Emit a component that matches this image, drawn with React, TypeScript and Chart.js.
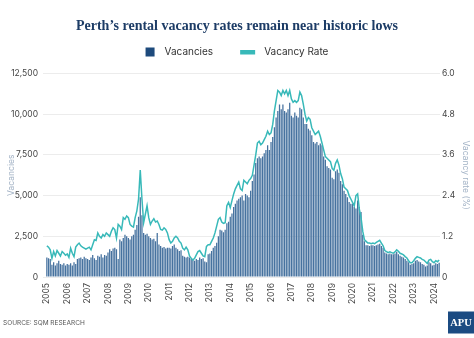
import React, { useEffect, useRef } from 'react';
import { Chart, registerables } from 'chart.js';

Chart.register(...registerables);

// ---- data (monthly, Jan 2005 – Apr 2024) ----
const START_YEAR = 2005;

const vacancies: number[] = [
  // 2005
  1200, 1150, 1100, 750, 900, 700, 850, 1000, 800, 750, 850, 700,
  // 2006
  800, 750, 850, 700, 900, 800, 1100, 1150, 1200, 1100, 1250, 1150,
  // 2007
  1100, 1050, 1200, 1350, 1150, 1050, 1300, 1250, 1400, 1200, 1350, 1300,
  // 2008
  1500, 1700, 1600, 1750, 1800, 1700, 1100, 2300, 2200, 2400, 2600, 2500,
  // 2009
  2400, 2300, 2500, 2600, 2900, 3200, 3700, 4900, 3800, 2700, 2600, 2650,
  // 2010
  2500, 2400, 2300, 2350, 2200, 2700, 2000, 1900, 1800, 1850, 1750, 1800,
  // 2011
  1800, 1750, 1900, 2000, 1800, 1700, 1600, 1650, 1300, 1250, 1200, 1250,
  // 2012
  1200, 1100, 1050, 1000, 1100, 1050, 1200, 1100, 1150, 950, 900, 1400,
  // 2013
  1450, 1600, 1800, 1900, 2100, 2500, 2900, 2850, 2750, 2900, 3300, 3400,
  // 2014
  3700, 3900, 4300, 4500, 4700, 4800, 4900, 5000, 4700, 5100, 5000, 4900,
  // 2015
  5300, 5900, 6300, 7000, 7300, 7400, 7300, 7400, 7600, 7800, 8100, 7800,
  // 2016
  8300, 8600, 9200, 9800, 10200, 10600, 10300, 10600, 10200, 10100, 10300, 10700,
  // 2017
  9900, 9800, 10100, 9900, 9800, 10400, 10300, 9800, 9400, 9400, 9100, 9000,
  // 2018
  8700, 8300, 8200, 8300, 8100, 8200, 8100, 7400, 7200, 6800, 6700, 6600,
  // 2019
  6100, 6000, 6500, 6600, 6400, 5900, 5700, 5300, 5100, 4900, 4600, 4500,
  // 2020
  4500, 4300, 4200, 4700, 4300, 4000, 2600, 2200, 1950, 1950, 1900, 1950,
  // 2021
  1950, 1900, 1950, 2000, 2050, 1900, 1800, 1500, 1450, 1400, 1450, 1400,
  // 2022
  1400, 1450, 1550, 1400, 1300, 1250, 1200, 1100, 1000, 900, 750, 800,
  // 2023
  850, 1000, 1050, 950, 900, 800, 750, 650, 700, 900, 850, 700,
  // 2024
  750, 850, 800, 880,
];

const vacancyRate: number[] = [
  // 2005
  0.92, 0.88, 0.8, 0.55, 0.75, 0.62, 0.78, 0.7, 0.62, 0.75, 0.7, 0.64,
  // 2006
  0.68, 0.58, 0.85, 0.7, 0.6, 0.88, 0.95, 1.0, 0.92, 0.88, 0.85, 0.82,
  // 2007
  0.85, 0.88, 0.8, 0.95, 1.1, 1.08, 1.3, 1.2, 1.15, 1.25, 1.2, 1.3,
  // 2008
  1.25, 1.2, 1.35, 1.45, 1.4, 1.15, 1.55, 1.5, 1.4, 1.75, 1.7, 1.8,
  // 2009
  1.75, 1.55, 1.5, 1.47, 1.75, 1.95, 2.3, 3.15, 2.3, 1.6, 1.85, 2.1,
  // 2010
  1.75, 1.55, 1.65, 1.72, 1.62, 1.65, 1.55, 1.4, 1.38, 1.45, 1.4, 1.3,
  // 2011
  1.1, 1.0, 1.05, 1.15, 1.2, 1.15, 1.05, 1.0, 0.85, 0.8, 0.88, 0.8,
  // 2012
  0.62, 0.55, 0.5, 0.55, 0.65, 0.75, 0.78, 0.7, 0.62, 0.6, 0.9, 0.95,
  // 2013
  0.95, 1.05, 1.15, 1.3, 1.5, 1.7, 1.75, 1.62, 1.58, 1.6, 2.1, 2.2,
  // 2014
  2.05, 2.25, 2.45, 2.6, 2.7, 2.8, 2.6, 2.55, 2.85, 2.8, 2.75, 2.85,
  // 2015
  2.9, 3.0, 3.3, 3.6, 3.95, 4.0, 3.9, 3.95, 4.05, 4.15, 4.3, 4.2,
  // 2016
  4.25, 4.5, 4.9, 5.2, 5.5, 5.45, 5.35, 5.5, 5.4, 5.5, 5.35, 5.5,
  // 2017
  5.25, 5.15, 5.2, 5.15, 5.2, 5.45, 5.35, 5.1, 4.8, 4.6, 4.7, 4.65,
  // 2018
  4.4, 4.3, 4.2, 4.25, 4.3, 4.15, 3.95, 3.75, 3.55, 3.5, 3.45, 3.4,
  // 2019
  3.2, 3.15, 3.35, 3.45, 3.3, 3.05, 2.9, 2.65, 2.6, 2.55, 2.4, 2.3,
  // 2020
  2.2, 2.1, 2.4, 2.45, 2.0, 1.75, 1.35, 1.1, 1.05, 1.0, 1.0, 0.98,
  // 2021
  1.0, 0.98, 1.02, 1.05, 1.08, 1.0, 0.92, 0.78, 0.75, 0.72, 0.74, 0.72,
  // 2022
  0.7, 0.74, 0.8, 0.76, 0.7, 0.68, 0.65, 0.6, 0.56, 0.48, 0.42, 0.42,
  // 2023
  0.48, 0.55, 0.6, 0.58, 0.56, 0.52, 0.5, 0.45, 0.4, 0.5, 0.52, 0.45,
  // 2024
  0.42, 0.48, 0.45, 0.5,
];

const monthLabels: string[] = vacancies.map(
  (_, i) => `${START_YEAR + Math.floor(i / 12)}-${String((i % 12) + 1).padStart(2, '0')}`
);

const seriesNames = ['Vacancies', 'Vacancy Rate'];
const axisTitles = ['Vacancies', 'Vacancy rate (%)'];
const TITLE = 'Perth’s rental vacancy rates remain near historic lows';
const SOURCE = 'SOURCE: SQM RESEARCH';
const LOGO = 'APU';

const NAVY = '#1d4a7c';
const BAR = '#46729f';
const TEAL = '#38b9b9';
const SANS = 'Inter, "Noto Sans", sans-serif';

const decorPlugin = {
  id: 'decor',
  afterDraw(chart: any) {
    const ctx = chart.ctx as CanvasRenderingContext2D;
    ctx.save();
    // legend
    ctx.font = `10px ${SANS}`;
    ctx.textBaseline = 'middle';
    ctx.textAlign = 'left';
    const w1 = ctx.measureText(seriesNames[0]).width;
    const w2 = ctx.measureText(seriesNames[1]).width;
    const total = 9 + 10 + w1 + 27 + 15 + 9 + w2;
    let x = (chart.width - total) / 2;
    const cy = 52;
    ctx.fillStyle = NAVY;
    ctx.fillRect(x, cy - 4.5, 9, 9);
    x += 19;
    ctx.fillStyle = '#333';
    ctx.fillText(seriesNames[0], x, cy);
    x += w1 + 27;
    ctx.fillStyle = TEAL;
    ctx.fillRect(x, cy - 2, 15, 4.5);
    x += 24;
    ctx.fillStyle = '#333';
    ctx.fillText(seriesNames[1], x, cy);

    // source
    ctx.font = `6.5px ${SANS}`;
    ctx.fillStyle = '#555';
    ctx.fillText(SOURCE, 3, 323.5);

    // logo
    ctx.fillStyle = '#1b4b82';
    ctx.fillRect(448, 311.5, 26, 22);
    ctx.fillStyle = '#ffffff';
    ctx.font = `bold 10.5px "Liberation Serif", serif`;
    ctx.textAlign = 'center';
    ctx.fillText(LOGO, 461, 323);
    ctx.restore();
  },
};

export default function App() {
  const ref = useRef<HTMLCanvasElement | null>(null);

  useEffect(() => {
    if (!ref.current) return;
    const chart = new Chart(ref.current, {
      type: 'bar',
      data: {
        labels: monthLabels,
        datasets: [
          {
            type: 'line',
            label: seriesNames[1],
            data: vacancyRate,
            yAxisID: 'y1',
            borderColor: TEAL,
            backgroundColor: TEAL,
            borderWidth: 1.5,
            pointRadius: 0,
            tension: 0,
            order: 0,
          } as any,
          {
            type: 'bar',
            label: seriesNames[0],
            data: vacancies,
            yAxisID: 'y',
            backgroundColor: BAR,
            barPercentage: 0.75,
            categoryPercentage: 1,
            order: 1,
          } as any,
        ],
      },
      options: {
        responsive: false,
        animation: false,
        layout: { padding: { left: 0, right: 0, top: 0, bottom: 33 } },
        plugins: {
          legend: { display: false },
          tooltip: { enabled: false },
          title: {
            display: true,
            text: TITLE,
            color: '#1d3c66',
            font: { family: '"Liberation Serif", serif', size: 14, weight: 'bold' },
            padding: { top: 17.6, bottom: 39.1 },
          },
        },
        scales: {
          x: {
            offset: true,
            grid: { display: false, drawTicks: false, tickLength: 0 },
            border: { display: false },
            ticks: {
              autoSkip: false,
              minRotation: 90,
              maxRotation: 90,
              padding: 6,
              color: '#444',
              font: { family: SANS, size: 8.5 },
              callback: (_v: any, i: number) => (i % 12 === 0 ? String(START_YEAR + i / 12) : ''),
            },
            afterFit: (s: any) => {
              s.height = 28;
            },
          },
          y: {
            position: 'left',
            min: 0,
            max: 12500,
            grid: { color: '#ececec', drawTicks: true, tickLength: 3 },
            border: { display: false },
            ticks: {
              stepSize: 2500,
              padding: 5,
              color: '#444',
              font: { family: SANS, size: 8.5 },
              callback: (v: any) => Number(v).toLocaleString('en-US'),
            },
            title: {
              display: true,
              text: axisTitles[0],
              color: '#a3b3c6',
              font: { family: SANS, size: 8.5 },
              padding: { top: 6, bottom: 0 },
            },
            afterFit: (s: any) => {
              s.width = 46;
            },
          },
          y1: {
            position: 'right',
            min: 0,
            max: 6,
            grid: { display: false, drawTicks: false, tickLength: 0 },
            border: { display: false },
            ticks: {
              stepSize: 1.2,
              padding: 2,
              color: '#444',
              font: { family: SANS, size: 8.5 },
              callback: (v: any) => (Number(v) === 0 ? '0' : Number(v).toFixed(1)),
            },
            title: {
              display: true,
              text: axisTitles[1],
              color: '#a3b3c6',
              font: { family: SANS, size: 8.5 },
              padding: { top: 3, bottom: 0 },
            },
            afterFit: (s: any) => {
              s.width = 34;
            },
          },
        },
      },
      plugins: [decorPlugin],
    });
    return () => chart.destroy();
  }, []);

  return (
    <div style={{ position: 'fixed', left: 0, top: 0, width: 474, height: 338, background: '#fff' }}>
      <canvas ref={ref} width={474} height={338} style={{ display: 'block' }} />
    </div>
  );
}
